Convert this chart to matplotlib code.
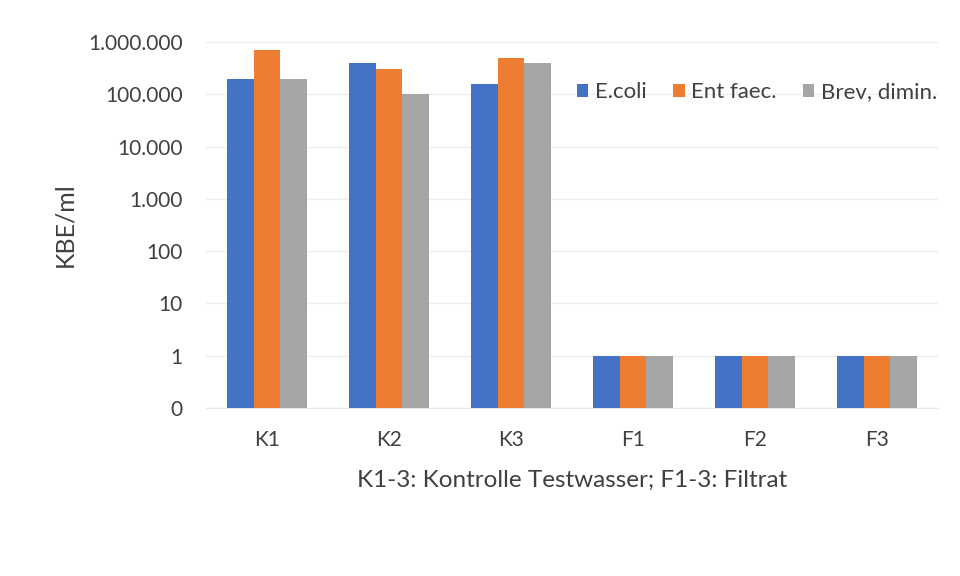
import numpy as np
import matplotlib
matplotlib.use("Agg")
import matplotlib.pyplot as plt
from matplotlib.ticker import FixedLocator, FuncFormatter, NullLocator

# data (KBE/ml)
categories = ["K1", "K2", "K3", "F1", "F2", "F3"]
ecoli = [200000, 400000, 160000, 1, 1, 1]
ent_faec = [700000, 300000, 500000, 1, 1, 1]
brev_dimin = [200000, 100000, 400000, 1, 1, 1]
series_names = ["E.coli", "Ent faec.", "Brev, dimin."]
colors = ["#4472C4", "#ED7D31", "#A5A5A5"]
y_ticks = [0.1, 1, 10, 100, 1000, 10000, 100000, 1000000]

plt.rcParams['font.family'] = ['Lato', 'DejaVu Sans']

def de_format(v, pos):
    # Excel shows 0.1 as "0" with thousand separator "."
    if v < 1:
        return "0"
    return f"{int(round(v)):,}".replace(",", ".")

fig = plt.figure(figsize=(9.6, 5.76), dpi=100)
ax = fig.add_axes([0.2146, 0.292, 0.7625, 0.635])

x = np.arange(len(categories))
width = 0.221
base = 0.1
for i, (vals, name, col) in enumerate(zip([ecoli, ent_faec, brev_dimin], series_names, colors)):
    heights = np.array(vals, dtype=float) - base
    ax.bar(x + (i - 1) * width, heights, width, bottom=base, color=col, label=name, zorder=3)

ax.set_yscale("log")
ax.set_ylim(0.1, 1000000)
ax.set_xlim(-0.5, len(categories) - 0.5)
ax.yaxis.set_major_locator(FixedLocator(y_ticks))
ax.yaxis.set_minor_locator(NullLocator())
ax.yaxis.set_major_formatter(FuncFormatter(de_format))
ax.grid(axis="y", color="#EDEDED", linewidth=1, zorder=0)

ax.set_xticks(x)
ax.set_xticklabels(categories)
ax.tick_params(axis="both", length=0, labelsize=15, colors="#404040")
ax.tick_params(axis="y", pad=17)
ax.tick_params(axis="x", pad=16)

for s in ["top", "right", "left"]:
    ax.spines[s].set_visible(False)
ax.spines["bottom"].set_color("#E8E8E8")

ax.set_ylabel("KBE/ml", fontsize=18, color="#404040", labelpad=8)
ax.set_xlabel("K1-3: Kontrolle Testwasser; F1-3: Filtrat", fontsize=17.5, color="#404040", labelpad=14)

ax.legend(loc="center left", bbox_to_anchor=(0.495, 0.863), ncol=3, frameon=False,
          fontsize=16, handlelength=0.5, handleheight=0.5, handletextpad=0.3,
          columnspacing=1.2, labelcolor="#404040", borderaxespad=0)

fig.savefig("out.png", dpi=100, facecolor="white")
